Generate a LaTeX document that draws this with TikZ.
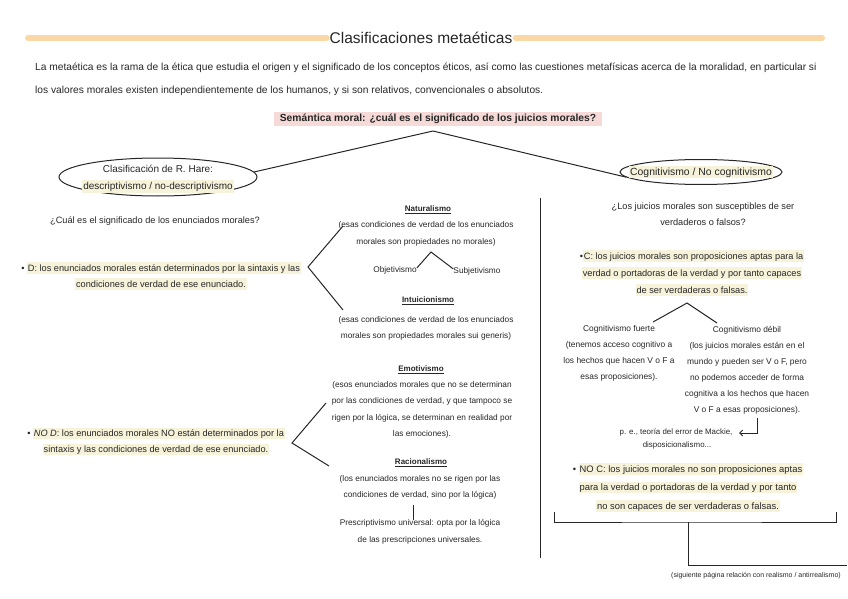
\documentclass[tikz,border=0pt]{standalone}
\usepackage{fontspec}
\setmainfont{Liberation Sans}
\usetikzlibrary{arrows.meta,shapes.geometric}
\definecolor{peach}{HTML}{FAD8A6}
\definecolor{hly}{HTML}{F7F3DA}
\definecolor{hlp}{HTML}{F5DAD7}
\definecolor{ink}{HTML}{262626}
\newcommand{\hlt}[1]{{\setlength{\fboxsep}{0.8pt}\colorbox{hly}{\vphantom{Áy}#1}}}
\begin{document}
\begin{tikzpicture}[x=1pt,y=-1pt,
  every node/.style={inner sep=0pt, text=ink},
  body/.style={font=\fontsize{8.3}{16.5}\selectfont, align=center},
  mid/.style={font=\fontsize{9.2}{16}\selectfont, align=center},
  head/.style={font=\fontsize{8}{9}\selectfont\bfseries},
  ln/.style={draw=ink, line width=1pt},
  oval/.style={ellipse, draw=ink, line width=1pt}]
\useasboundingbox (0,0) rectangle (848,599);

% title
\node[font=\fontsize{15.5}{17}\selectfont] (title) at (421,38) {Clasificaciones metaéticas};
\coordinate (bandL) at (28,38);
\coordinate (bandR) at (822,38);
\draw[peach, line width=6pt, line cap=round] (bandL) -- ([xshift=-3]title.west);
\draw[peach, line width=6pt, line cap=round] ([xshift=3]title.east) -- (bandR);

\node[anchor=west, align=left, font=\fontsize{10.2}{23}\selectfont] (intro) at (35,79.5)
 {La metaética es la rama de la ética que estudia el origen y el significado de los conceptos éticos, así como las cuestiones metafísicas acerca de la moralidad, en particular si\\
  los valores morales existen independientemente de los humanos, y si son relativos, convencionales o absolutos.};

\node[fill=hlp, inner xsep=6pt, inner ysep=2pt, font=\fontsize{10.3}{12}\selectfont\bfseries] (sem) at (438,119)
 {Semántica moral: ¿cuál es el significado de los juicios morales?};
\coordinate (semapex) at (433,131);

% ovals
\node[oval, minimum width=198, minimum height=38] (hare) at (158,177) {};
\node[font=\fontsize{10}{17}\selectfont, align=center] (haretxt) at (158,179)
 {Clasificación de R. Hare:\\ \hlt{descriptivismo / no-descriptivismo}};
\node[oval, minimum width=162, minimum height=25] (cog) at (701,172) {};
\node[font=\fontsize{10.4}{12}\selectfont] (cogtxt) at (701,172) {\hlt{Cognitivismo / No cognitivismo}};
\draw[ln] (semapex) -- (hare.3);
\draw[ln] (semapex) -- (cog.184);

% left column
\node[mid] (q1) at (155,221) {¿Cuál es el significado de los enunciados morales?};
\node[mid] (dtxt) at (161,276)
 {• \hlt{D: los enunciados morales están determinados por la sintaxis y las}\\ \hlt{condiciones de verdad de ese enunciado.}};
\coordinate (dapex) at (308,267);
\coordinate (dup) at (343,226);
\coordinate (ddown) at (343,310);
\draw[ln] (dup) -- (dapex) -- (ddown);

\node[head] (nat) at (428,210) {\underline{Naturalismo}};
\node[body] (natd) at (426,234) {(esas condiciones de verdad de los enunciados\\ morales son propiedades no morales)};
\node[body] (obj) at (395,270) {Objetivismo};
\node[body] (subj) at (477,271) {Subjetivismo};
\coordinate (natapex) at (431,252);
\draw[ln] ([yshift=-2]obj.north east) -- (natapex) -- ([yshift=-2]subj.north west);

\node[head] (intu) at (428,301) {\underline{Intuicionismo}};
\node[body] (intud) at (426,328.5) {(esas condiciones de verdad de los enunciados\\ morales son propiedades morales sui generis)};

\node[mid] (nodtxt) at (156,441.5)
 {• \hlt{\textit{NO D}: los enunciados morales NO están determinados por la}\\ \hlt{sintaxis y las condiciones de verdad de ese enunciado.}};
\coordinate (ndapex) at (292,443);
\coordinate (ndup) at (326,403);
\coordinate (nddown) at (329,466);
\draw[ln] (ndup) -- (ndapex) -- (nddown);

\node[head] (emo) at (421,370) {\underline{Emotivismo}};
\node[body] (emod) at (422,410) {(esos enunciados morales que no se determinan\\ por las condiciones de verdad, y que tampoco se\\ rigen por la lógica, se determinan en realidad por\\ las emociones).};
\node[head] (racio) at (421,463) {\underline{Racionalismo}};
\node[body] (raciod) at (420,487.5) {(los enunciados morales no se rigen por las\\ condiciones de verdad, sino por la lógica)};
\node[body] (presc) at (420,532) {Prescriptivismo universal: opta por la lógica\\ de las prescripciones universales.};
\draw[ln, shorten <=5pt] ([xshift=-7]raciod.south) -- ([xshift=-7]presc.north);

% divider
\coordinate (divtop) at (540,198);
\coordinate (divbot) at (540,558);
\draw[ln] (divtop) -- (divbot);

% right column
\node[mid] (q2) at (703,214) {¿Los juicios morales son susceptibles de ser\\ verdaderos o falsos?};
\node[font=\fontsize{9.2}{17}\selectfont, align=center] (ctxt) at (692,273)
 {•\hlt{C: los juicios morales son proposiciones aptas para la}\\ \hlt{verdad o portadoras de la verdad y por tanto capaces}\\ \hlt{de ser verdaderas o falsas.}};
\coordinate (capex) at (687,303);
\coordinate (cl) at (653,322);
\coordinate (cr) at (717,323);
\draw[ln] (cl) -- (capex) -- (cr);
\node[body, font=\fontsize{8.4}{16}\selectfont] (fuerte) at (619,353) {Cognitivismo fuerte\\ (tenemos acceso cognitivo a\\ los hechos que hacen V o F a\\ esas proposiciones).};
\node[body, font=\fontsize{8.4}{16}\selectfont] (debil) at (747,370) {Cognitivismo débil\\ (los juicios morales están en el\\ mundo y pueden ser V o F, pero\\ no podemos acceder de forma\\ cognitiva a los hechos que hacen\\ V o F a esas proposiciones).};
\node[font=\fontsize{7.9}{8}\selectfont] (mackie) at (676,432) {p. e., teoría del error de Mackie,};
\node[font=\fontsize{7.9}{8}\selectfont] (disp) at (677,445) {disposicionalismo...};
\coordinate (arrtop) at (757,418);
\coordinate (arrtip) at (739,433);
\draw[ln, -{Straight Barb[length=3pt,width=6pt]}] (arrtop) |- (arrtip);

\node[font=\fontsize{9.4}{18.5}\selectfont, align=center] (nctxt) at (688,487.5)
 {• \hlt{NO C: los juicios morales no son proposiciones aptas}\\ \hlt{para la verdad o portadoras de la verdad y por tanto}\\ \hlt{no son capaces de ser verdaderas o falsas.}};
\coordinate (bl) at (554,512);
\coordinate (br) at (836,512);
\coordinate (bmid) at (688,522);
\coordinate (bend) at (847,565);
\draw[ln] (bl) |- (bmid) -| (br);
\draw[ln] (bmid) |- (bend);
\node[font=\fontsize{7}{8}\selectfont] (foot) at (756,576) {(siguiente página relación con realismo / antirrealismo)};
\end{tikzpicture}
\end{document}
